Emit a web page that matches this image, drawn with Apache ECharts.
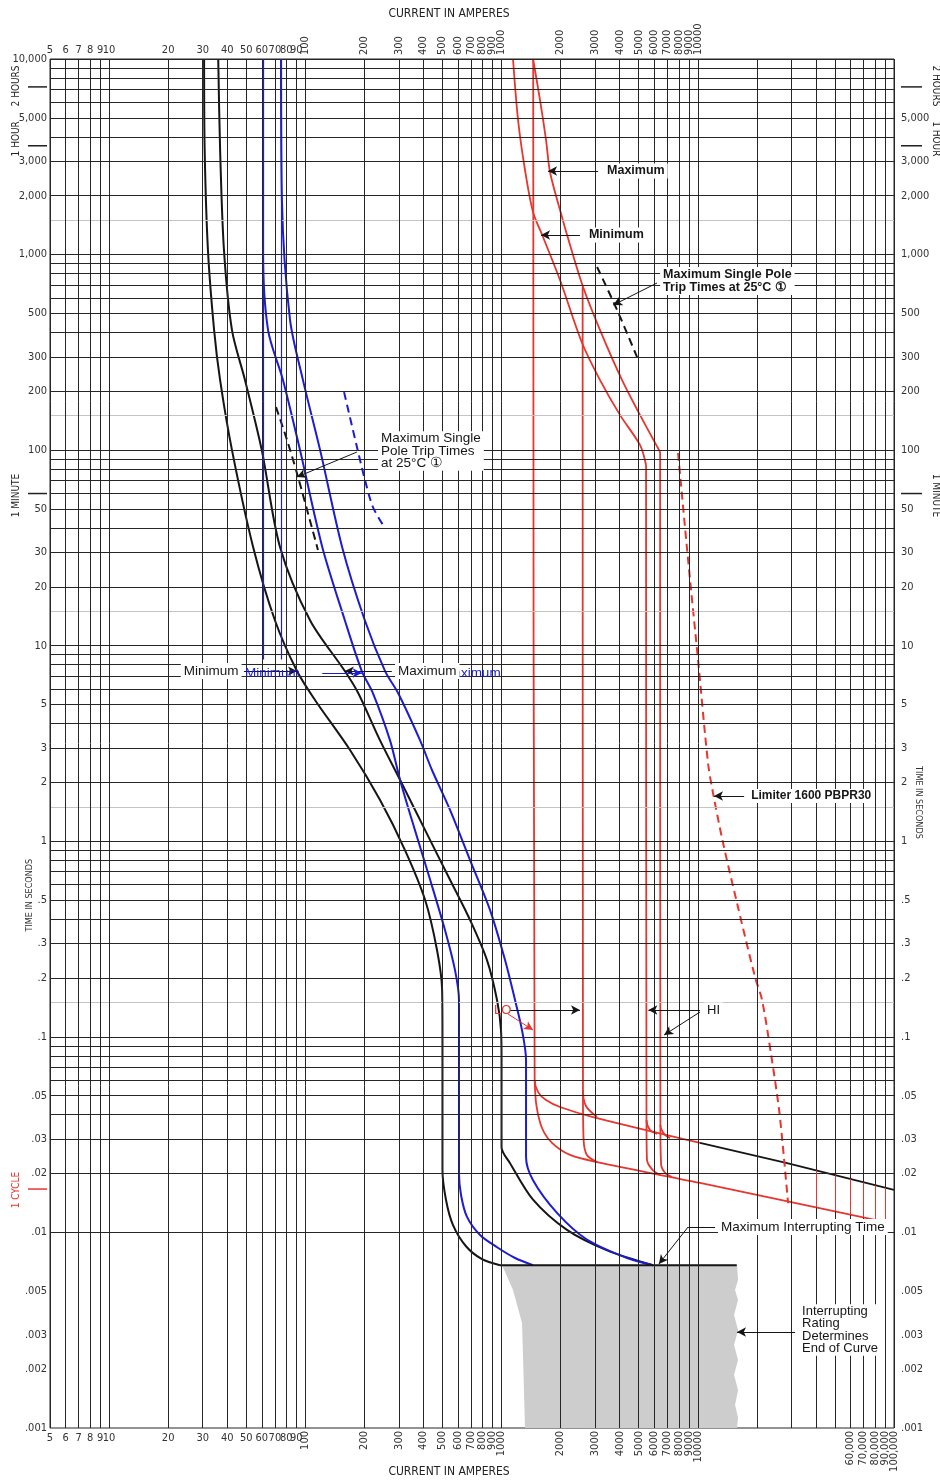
<!DOCTYPE html>
<html><head><meta charset="utf-8">
<script src="https://cdn.jsdelivr.net/npm/echarts@6/dist/echarts.min.js"></script>
<style>html,body{margin:0;padding:0;background:#fff}#c{width:940px;height:1482px}</style>
</head><body><div id="c"></div>
<script>
// ---------------- DATA ----------------
const xTicksTop = [5,6,7,8,9,10,20,30,40,50,60,70,80,90,100,200,300,400,500,600,700,800,900,1000,2000,3000,4000,5000,6000,7000,8000,9000,10000];
const xTickLabelsTop = ['5','6','7','8','9','10','20','30','40','50','60','70','80','90','100','200','300','400','500','600','700','800','900','1000','2000','3000','4000','5000','6000','7000','8000','9000','10000'];
const xTicksBottom = [5,6,7,8,9,10,20,30,40,50,60,70,80,90,100,200,300,400,500,600,700,800,900,1000,2000,3000,4000,5000,6000,7000,8000,9000,10000,60000,70000,80000,90000,100000];
const xTickLabelsBottom = ['5','6','7','8','9','10','20','30','40','50','60','70','80','90','100','200','300','400','500','600','700','800','900','1000','2000','3000','4000','5000','6000','7000','8000','9000','10000','60,000','70,000','80,000','90,000','100,000'];
const yTicksLeft = [10000,5000,3000,2000,1000,500,300,200,100,50,30,20,10,5,3,2,1,0.5,0.3,0.2,0.1,0.05,0.03,0.02,0.01,0.005,0.003,0.002,0.001];
const yTickLabelsLeft = ['10,000','5,000','3,000','2,000','1,000','500','300','200','100','50','30','20','10','5','3','2','1','.5','.3','.2','.1','.05','.03','.02','.01','.005','.003','.002','.001'];
const yTicksRight = [5000,3000,2000,1000,500,300,200,100,50,30,20,10,5,3,2,1,0.5,0.3,0.2,0.1,0.05,0.03,0.02,0.01,0.005,0.003,0.002,0.001];
const yTickLabelsRight = ['5,000','3,000','2,000','1,000','500','300','200','100','50','30','20','10','5','3','2','1','.5','.3','.2','.1','.05','.03','.02','.01','.005','.003','.002','.001'];

const xGridValues = [5,6,7,8,9,10,20,30,40,50,60,70,80,90,100,200,300,400,500,600,700,800,900,1000,2000,3000,4000,5000,6000,7000,8000,9000,10000,20000,30000,40000,50000,60000,70000,80000,90000,100000];
const yGridValues = [0.001,0.002,0.003,0.004,0.005,0.006,0.007,0.008,0.009,0.01,0.02,0.03,0.04,0.05,0.06,0.07,0.08,0.09,0.1,0.2,0.3,0.4,0.5,0.6,0.7,0.8,0.9,1,2,3,4,5,6,7,8,9,10,20,30,40,50,60,70,80,90,100,200,300,400,500,600,700,800,900,1000,2000,3000,4000,5000,6000,7000,8000,9000,10000];
const yLightGridValues = [0.0015,0.015,0.15,1.5,15,150,1500];
const blueGridSegments = [[[60.9,10000],[60.9,8.5]],[[75.2,10000],[75.2,8.5]]];

// curves: [amperes, seconds]
const blackMin = [[30.5,10000],[30.7,3430],[31.9,1057],[34.3,411],[36.8,228],[42.3,100],[54.2,32],[70,13.5],[90.7,7.42],[112,5.28],[169,2.93],[240,1.63],[322,0.902],[408,0.501],[469,0.278],[498,0.174],[500,0.0964],[500,0.0209],[521,0.0147],[566,0.0109],[659,0.0085],[795,0.0073],[982,0.0068]];
const blackMax = [[36,10000],[36.8,3430],[38.5,1057],[42.3,411],[49.3,228],[60,100],[74.3,32],[105.7,13.5],[159,7.42],[186,5.73],[240,3.29],[304,2.06],[408,1.14],[547,0.634],[691,0.396],[843,0.247],[949,0.154],[994,0.108],[1000,0.0762],[1000,0.0273],[1105,0.0226],[1447,0.0147],[2155,0.0103],[3451,0.0081],[5915,0.0068]];
const blueMin = [[60.9,10000],[60.9,1057],[64.6,411],[77,228],[94,100],[122,32],[159,13.5],[194,7.42],[221,5.73],[270,3.29],[304,2.06],[362,1.14],[433,0.634],[515,0.352],[579,0.22],[607,0.154],[607,0.0964],[607,0.0201],[622,0.0155],[667,0.012],[777,0.0097],[949,0.0084],[1172,0.0074],[1447,0.0068]];
const blueMax = [[75.2,10000],[76,1901],[83.6,463],[97.3,228],[119,100],[154,32],[201,13.5],[255,7.42],[297,5.73],[384,3.29],[442,2.315],[547,1.445],[691,0.802],[874,0.445],[1042,0.247],[1172,0.154],[1272,0.108],[1333,0.0762],[1333,0.0243],[1447,0.0185],[1917,0.0126],[2723,0.0092],[4364,0.0074],[5915,0.0068]];
const maxInterruptLine = [[982,0.0068],[15800,0.0068]];

const redLongMin = [[1144,10000],[1214,4877],[1317,2707],[1447,1651],[1627,1230],[1986,741],[2574,353],[3177,228],[4019,151],[5083,106],[5451,84]];
const redLongMax = [[1447,10000],[1571,6169],[1686,3853],[1766,2645],[1986,1690],[2234,1119],[2604,683],[3177,411],[4115,228],[5083,151],[6428,97.8]];
const loMinUpper = [[1450,10000],[1475,0.0602],[1536,0.0522],[1686,0.0475],[1986,0.0438],[2927,0.0389],[10270,0.0287]];
const loMinLower = [[1475,0.0602],[1505,0.0448],[1608,0.0342],[1808,0.0287],[2234,0.0249],[3068,0.0229],[10270,0.0179],[80000,0.0116]];
const clearingTail = [[10270,0.0287],[28530,0.0226],[100000,0.0165]];
const loMaxUpper = [[2590,683],[2600,0.0535],[2692,0.0443],[3068,0.0389]];
const loMaxLower = [[2600,0.0535],[2620,0.0297],[2723,0.0249],[3068,0.0229]];
const hiMinUpper = [[5451,84],[5480,0.0376],[5710,0.0334],[6200,0.0319]];
const hiMinLower = [[5480,0.0376],[5510,0.0235],[5880,0.0209],[6428,0.0197]];
const hiMaxUpper = [[6428,97.8],[6450,0.0354],[6734,0.0319],[7226,0.0304]];
const hiMaxLower = [[6450,0.0354],[6510,0.0221],[6900,0.0199],[7400,0.0192]];
const limiter = [[7935,96.7],[8930,27.4],[10035,8.45],[11280,2.513],[11960,1.766],[13460,0.98],[15850,0.4835],[19580,0.2023],[21260,0.1543],[23660,0.0808],[25970,0.0423],[27550,0.0235],[28860,0.0141]];
const singlePoleBlack = [[70.9,166],[80.7,112.7],[91.8,72.9],[116,30.9]];
const singlePoleBlue = [[157.6,198],[183.3,103.8],[201.4,70.4],[221,51.2],[249,41.4]];
const singlePoleRed = [[3068,864],[3879,521],[4906,299]];
const redStubs = [[[40000,0.02075],[40000,0.0134]],[[50000,0.0196],[50000,0.0128]],[[60000,0.01875],[60000,0.01228]],[[70000,0.018],[70000,0.01188]],[[80000,0.0174],[80000,0.01158]],[[90000,0.01695],[90000,0.0113]]];
const greyRegion = [[1006,0.00681],[15850,0.00681],[16040,0.00571],[15490,0.00508],[16040,0.00451],[15310,0.00378],[16040,0.00317],[15310,0.00266],[16040,0.00223],[15310,0.00187],[16040,0.00156],[15490,0.00131],[16040,0.00113],[15850,0.001],[1317,0.001],[1287,0.00231],[1272,0.00344],[1144,0.00508],[1006,0.00681]];

// annotation arrows [from, to]
const blackArrows = [
  [[3104,2676],[1726,2676]],
  [[2510,1259],[1590,1259]],
  [[6200,715.6],[3708,552]],
  [[183.3,97.8],[90.7,72.9]],
  [[48.7,7.42],[90.7,7.42]],
  [[276,7.42],[159,7.42]],
  [[17230,1.705],[12100,1.705]],
  [[10270,0.1372],[5600,0.1372]],
  [[10270,0.134],[6734,0.1022]],
  [[1105,0.1372],[2510,0.1372]],
  [[8930,0.01066],[6340,0.0069]],
  [[31330,0.003097],[15850,0.003097]]
];
const blackLeaders = [[[12240,0.01066],[8930,0.01066]]];
const blueArrows = [[[122,7.25],[194,7.25]]];
const redArrows = [[[1079,0.1309],[1447,0.1084]]];

const annotations = [
  {text:'Maximum', at:[3330,2676], weight:'bold', size:12.5},
  {text:'Minimum', at:[2692,1259], weight:'bold', size:12.5},
  {text:'Maximum Single Pole\nTrip Times at 25°C ①', at:[6428,732], weight:'bold', size:12.5, lh:13},
  {text:'Maximum Single\nPole Trip Times\nat 25°C ①', at:[234.7,99], size:13.5, lh:12.5},
  {text:'Minimum', at:[23.2,7.42], size:13.5},
  {text:'Maximum', at:[286.6,7.42], size:13.5},
  {text:'Limiter 1600 PBPR30', at:[18070,1.705], weight:'bold', size:12},
  {text:'HI', at:[10770,0.1372], size:13},
  {text:'Maximum Interrupting Time', at:[12680,0.01066], size:13.5},
  {text:'Interrupting\nRating\nDetermines\nEnd of Curve', at:[32830,0.00317], size:13, lh:12.4}
];
const blueTexts = [
  {text:'Minimum', at:[49.3,7.25], size:13.5},
  {text:'Maximum', at:[498,7.25], size:13.5}
];
const redTexts = [{text:'LO', at:[916,0.1372], size:13}];

// ---------------- CHART ----------------
const BLACK='#151515', BLUE='#1c1cd6', RED='#e8352d', GRID='#262626';
const NARROW = "'Liberation Sans Narrow','DejaVu Sans Condensed',sans-serif";
const SANS = "'Liberation Sans',Arial,sans-serif";
const chart = echarts.init(document.getElementById('c'), null, {width:940, height:1482});

function curve(data, color, opts) {
  opts = opts || {};
  return {type:'line', data, showSymbol:false, symbol:'none', silent:true, animation:false,
    smooth: opts.smooth === undefined ? 0.3 : opts.smooth, z: opts.z || 4,
    lineStyle:{color, width: opts.width || 2, type: opts.dash ? [8,5] : 'solid'}};
}
function arrowSeries(list, color, withArrow, z, width) {
  return {type:'line', data:[[5,0.001]], showSymbol:false, symbol:'none', silent:true, animation:false,
    lineStyle:{width:0, opacity:0}, z: z || 6,
    markLine:{silent:true, animation:false, symbol:'none', symbolSize:8,
      label:{show:false}, lineStyle:{color, width: width || 1, type:'solid'}, emphasis:{disabled:true},
      data: list.map(s => [
        {coord:s[0], symbol:'none', symbolSize:0},
        {coord:s[1], symbol: withArrow ? 'arrow' : 'none', symbolSize: withArrow ? [7,9] : 0}
      ])}};
}

const option = {
  animation:false,
  backgroundColor:'#ffffff',
  grid:{left:50, top:59, width:844, height:1369, show:true, borderColor:GRID, borderWidth:1, backgroundColor:'transparent'},
  xAxis:{type:'log', logBase:10, min:5, max:100000, axisLine:{show:false}, axisTick:{show:false}, axisLabel:{show:false}, splitLine:{show:false}},
  yAxis:{type:'log', logBase:10, min:0.001, max:10000, axisLine:{show:false}, axisTick:{show:false}, axisLabel:{show:false}, splitLine:{show:false}},
  series:[
    {type:'custom', z:1, silent:true, animation:false, clip:true, data:[greyRegion[0]],
      renderItem:(params, api) => ({type:'polygon', shape:{points: greyRegion.map(p => api.coord(p))}, style:{fill:'#cdcdcd'}})},
    {type:'line', data:[[5,0.001]], showSymbol:false, symbol:'none', silent:true, lineStyle:{width:0,opacity:0}, z:2,
      markLine:{silent:true, animation:false, symbol:['none','none'], label:{show:false}, emphasis:{disabled:true},
        lineStyle:{color:'#c4c4c4', width:1, type:'solid'}, data: yLightGridValues.map(v => ({yAxis:v}))}},
    {type:'line', data:[[5,0.001]], showSymbol:false, symbol:'none', silent:true, lineStyle:{width:0,opacity:0}, z:2,
      markLine:{silent:true, animation:false, symbol:['none','none'], label:{show:false}, emphasis:{disabled:true},
        lineStyle:{color:GRID, width:1, type:'solid'},
        data: xGridValues.map(v => ({xAxis:v})).concat(yGridValues.map(v => ({yAxis:v})))}},
    arrowSeries(blueGridSegments, '#2323a8', false, 3, 1.2),
    arrowSeries(redStubs, RED, false, 3),
    curve(blackMin, BLACK),
    curve(blackMax, BLACK),
    curve(blueMin, BLUE),
    curve(blueMax, BLUE),
    curve(maxInterruptLine, BLACK, {smooth:false}),
    curve(redLongMin, RED, {width:1.8}),
    curve(redLongMax, RED, {width:1.8}),
    curve(loMinUpper, RED, {width:1.8}),
    curve(loMinLower, RED, {width:1.8}),
    curve(clearingTail, BLACK, {width:1.8, smooth:false}),
    curve(loMaxUpper, RED, {width:1.8}),
    curve(loMaxLower, RED, {width:1.8}),
    curve(hiMinUpper, RED, {width:1.8}),
    curve(hiMinLower, RED, {width:1.8}),
    curve(hiMaxUpper, RED, {width:1.8}),
    curve(hiMaxLower, RED, {width:1.8}),
    curve(limiter, RED, {dash:true, width:2}),
    curve(singlePoleBlack, BLACK, {dash:true, width:2}),
    curve(singlePoleBlue, BLUE, {dash:true, width:2}),
    curve(singlePoleRed, BLACK, {dash:true, width:2}),
    arrowSeries(blackArrows, BLACK, true, 6),
    arrowSeries(blackLeaders, BLACK, false, 6),
    arrowSeries(blueArrows, BLUE, true, 6),
    arrowSeries(redArrows, RED, true, 6)
  ]
};
chart.setOption(option);

// ---------------- TEXT LAYER ----------------
const toPx = p => chart.convertToPixel({xAxisIndex:0, yAxisIndex:0}, p);
const g = [];
const TICK = '11px ' + NARROW;
function txt(x, y, text, o) {
  o = o || {};
  g.push({type:'text', x, y, rotation: o.rot || 0, z: o.z || 20, silent:true,
    style:{text, font: o.font || TICK, fill: o.fill || '#333', align: o.align || 'center', verticalAlign: o.va || 'middle',
      lineHeight: o.lh, backgroundColor: o.bg, padding: o.pad}});
}
xTicksTop.forEach((v, i) => {
  const p = toPx([v, 10000]);
  if (v >= 100) txt(p[0], p[1] - 4, xTickLabelsTop[i], {rot: Math.PI/2, align:'left'});
  else txt(p[0], p[1] - 9, xTickLabelsTop[i]);
});
xTicksBottom.forEach((v, i) => {
  const p = toPx([v, 0.001]);
  if (v >= 100) txt(p[0], p[1] + 3, xTickLabelsBottom[i], {rot: Math.PI/2, align:'right'});
  else txt(p[0], p[1] + 10, xTickLabelsBottom[i]);
});
yTicksLeft.forEach((v, i) => {
  const p = toPx([5, v]);
  txt(p[0] - 3, p[1], yTickLabelsLeft[i], {align:'right'});
});
yTicksRight.forEach((v, i) => {
  const p = toPx([100000, v]);
  txt(p[0] + 7, p[1], yTickLabelsRight[i], {align:'left'});
});

// axis titles
const gl = toPx([5, 0.001]), gr = toPx([100000, 10000]);
const midX = (gl[0] + gr[0]) / 2 - 23;
txt(midX, gr[1] - 45, 'CURRENT IN AMPERES', {font:'12px ' + NARROW, fill:'#222'});
txt(midX, gl[1] + 44, 'CURRENT IN AMPERES', {font:'12px ' + NARROW, fill:'#222'});
txt(30, toPx([5, 0.53])[1], 'TIME IN SECONDS', {font:'9px ' + NARROW, rot: Math.PI/2, fill:'#333'});
txt(918, toPx([5, 1.58])[1], 'TIME IN SECONDS', {font:'9px ' + NARROW, rot: -Math.PI/2, fill:'#333'});

// time markers
const markers = [
  {v:7200, left:'2 HOURS', color:'#222', dy:-1},
  {v:3600, left:'1 HOUR', color:'#222', dy:-7},
  {v:60, left:'1 MINUTE', color:'#222', dy:2},
  {v:1/60, left:'1 CYCLE', color:RED, dy:1, noRight:true}
];
markers.forEach(m => {
  const y = toPx([5, m.v])[1];
  g.push({type:'line', z:20, silent:true, shape:{x1:28, y1:y, x2:47, y2:y}, style:{stroke:m.color, lineWidth:1.5}});
  txt(16, y + m.dy, m.left, {font:'10px ' + NARROW, rot: Math.PI/2, fill:m.color});
  if (!m.noRight) {
    g.push({type:'line', z:20, silent:true, shape:{x1:901, y1:y, x2:922, y2:y}, style:{stroke:m.color, lineWidth:1.5}});
    txt(936, y + m.dy, m.left, {font:'10px ' + NARROW, rot: -Math.PI/2, fill:m.color});
  }
});

// annotations
blueTexts.forEach(a => {
  const p = toPx(a.at);
  txt(p[0], p[1], a.text, {font: a.size + 'px ' + SANS, fill:BLUE, align:'left', z:5});
});
annotations.forEach(a => {
  const p = toPx(a.at);
  txt(p[0], p[1], a.text, {font: (a.weight ? a.weight + ' ' : '') + a.size + 'px ' + SANS, fill:'#161616', align:'left',
    lh: a.lh, bg:'#ffffff', pad:[1,3,1,3], z:20});
});
redTexts.forEach(a => {
  const p = toPx(a.at);
  txt(p[0], p[1], a.text, {font: a.size + 'px ' + SANS, fill:RED, align:'left', z:20});
});

chart.setOption({graphic: g});
</script>
</body></html>
